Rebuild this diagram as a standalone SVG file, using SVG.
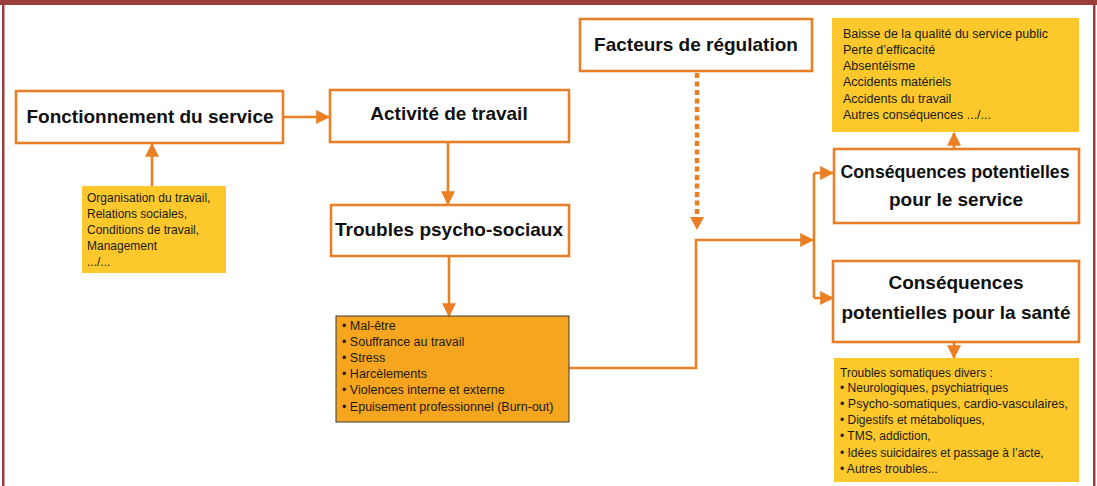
<svg xmlns="http://www.w3.org/2000/svg" width="1097" height="486" viewBox="0 0 1097 486">
<style>
.box{fill:#fff;stroke:#e8802a;stroke-width:2.6}
.title{font-family:"Liberation Sans",Arial,sans-serif;font-weight:bold;font-size:19px;fill:#111;text-anchor:middle}
.small{font-family:"Liberation Sans",Arial,sans-serif;font-size:12px;fill:#1a1a1a}
.mid{font-size:12.5px}
.yel{fill:#fcc82c}
.conn{fill:none;stroke:#ea7f23;stroke-width:2.6}
.dash{fill:none;stroke:#ea7f23;stroke-width:4.5;stroke-dasharray:5 3.5}
</style>
<defs>
<marker id="ah" markerUnits="userSpaceOnUse" markerWidth="14" markerHeight="14" viewBox="0 0 12 12" refX="11" refY="6" orient="auto">
<path d="M0,0 L12,6 L0,12 z" fill="#ea7f23"/>
</marker>
</defs>
<rect x="0" y="0" width="1097" height="486" fill="#fff"/>
<g id="frame">
<rect x="0" y="0" width="1097" height="5" fill="#9a3e3c"/>
<rect x="2" y="0" width="2.5" height="486" fill="#9a3e3c"/>
<rect x="1093" y="0" width="2.5" height="486" fill="#9a3e3c"/>
</g>
<g id="connectors">
<path class="conn" d="M283,117 L329,117" marker-end="url(#ah)"/>
<path class="conn" d="M152,186 L152,144" marker-end="url(#ah)"/>
<path class="conn" d="M448,142 L448,204" marker-end="url(#ah)"/>
<path class="conn" d="M449,256 L449,316" marker-end="url(#ah)"/>
<path class="conn" d="M569,368 L696,368 L696,240 L813,240" marker-end="url(#ah)"/>
<path class="conn" d="M814,173 L814,298"/>
<path class="conn" d="M814,173 L833,173" marker-end="url(#ah)"/>
<path class="conn" d="M814,298 L833,298" marker-end="url(#ah)"/>
<path class="dash" d="M697,73 L697,217"/>
<path d="M690,217 L704,217 L697,230 z" fill="#ea7f23"/>
<path class="conn" d="M954,149 L954,133" marker-end="url(#ah)"/>
<path class="conn" d="M954,342 L954,358" marker-end="url(#ah)"/>
</g>
<g id="fonctionnement">
<rect class="box" x="16" y="91" width="267" height="52"/>
<text class="title" x="150" y="123">Fonctionnement du service</text>
</g>
<g id="activite">
<rect class="box" x="330" y="90" width="239" height="52"/>
<text class="title" x="449" y="120">Activité de travail</text>
</g>
<g id="troubles">
<rect class="box" x="331" y="205" width="238" height="51"/>
<text class="title" x="449" y="236">Troubles psycho-sociaux</text>
</g>
<g id="facteurs">
<rect class="box" x="580" y="19" width="232" height="52"/>
<text class="title" x="696" y="51">Facteurs de régulation</text>
</g>
<g id="csq-service">
<rect class="box" x="834" y="149" width="245" height="74"/>
<text class="title" x="955" y="178" textLength="229" lengthAdjust="spacingAndGlyphs">Conséquences potentielles</text>
<text class="title" x="956" y="206">pour le service</text>
</g>
<g id="csq-sante">
<rect class="box" x="833" y="261" width="246" height="81"/>
<text class="title" x="956" y="289">Conséquences</text>
<text class="title" x="956" y="319" textLength="229" lengthAdjust="spacingAndGlyphs">potentielles pour la santé</text>
</g>
<g id="facteurs-service">
<rect class="yel" x="82" y="186" width="144" height="87"/>
<text class="small" x="87" y="202">Organisation du travail,</text>
<text class="small" x="87" y="218">Relations sociales,</text>
<text class="small" x="87" y="234">Conditions de travail,</text>
<text class="small" x="87" y="250">Management</text>
<text class="small" x="87" y="266">.../...</text>
</g>
<g id="manifestations">
<rect x="336" y="316" width="233" height="106" fill="#f6a51e" stroke="#3a3a3a" stroke-width="1"/>
<text class="small mid" x="342" y="330">• Mal-être</text>
<text class="small mid" x="342" y="346">• Souffrance au travail</text>
<text class="small mid" x="342" y="362">• Stress</text>
<text class="small mid" x="342" y="378">• Harcèlements</text>
<text class="small mid" x="342" y="394">• Violences interne et externe</text>
<text class="small mid" x="342" y="411">• Epuisement professionnel (Burn-out)</text>
</g>
<g id="liste-service">
<rect class="yel" x="832" y="18" width="247" height="114"/>
<text class="small mid" x="843" y="38">Baisse de la qualité du service public</text>
<text class="small mid" x="843" y="54">Perte d’efficacité</text>
<text class="small mid" x="843" y="70">Absentéisme</text>
<text class="small mid" x="843" y="86">Accidents matériels</text>
<text class="small mid" x="843" y="103">Accidents du travail</text>
<text class="small mid" x="843" y="119">Autres conséquences .../...</text>
</g>
<g id="liste-sante">
<rect class="yel" x="834" y="358" width="245" height="124"/>
<text class="small" x="840" y="377">Troubles somatiques divers :</text>
<text class="small" x="840" y="392">• Neurologiques, psychiatriques</text>
<text class="small" x="840" y="408" textLength="228" lengthAdjust="spacingAndGlyphs">• Psycho-somatiques, cardio-vasculaires,</text>
<text class="small" x="840" y="424">• Digestifs et métaboliques,</text>
<text class="small" x="840" y="440">• TMS, addiction,</text>
<text class="small" x="840" y="457">• Idées suicidaires et passage à l’acte,</text>
<text class="small" x="840" y="473">• Autres troubles...</text>
</g>
</svg>
